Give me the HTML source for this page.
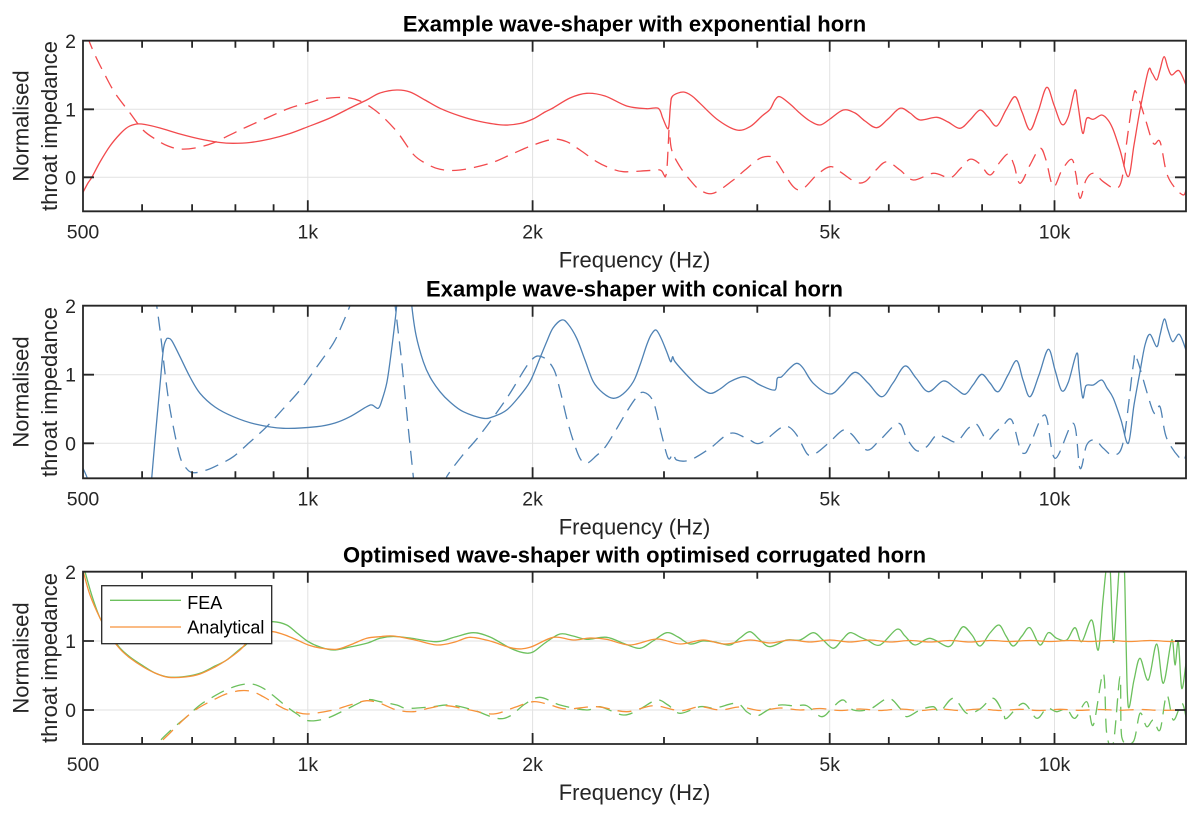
<!DOCTYPE html>
<html><head><meta charset="utf-8"><style>
html,body{margin:0;padding:0;background:#fff;}
svg{display:block;font-family:"Liberation Sans",Arial,sans-serif;}
.t{font-weight:bold;font-size:22px;fill:#000;}
.xl{font-size:22px;fill:#262626;}
.tk{font-size:19.5px;fill:#262626;}
.g{stroke:#e2e2e2;stroke-width:1;fill:none;}
.ax{stroke:#262626;stroke-width:1.8;fill:none;}
.d{fill:none;stroke-width:1.3;stroke-linejoin:round;stroke-linecap:butt;}
.ds{stroke-dasharray:14,8;}
</style></head><body>
<svg id="chart" width="1200" height="816" viewBox="0 0 1200 816" xmlns="http://www.w3.org/2000/svg">
<defs>
<clipPath id="c1"><rect x="83" y="40.7" width="1103" height="170.6"/></clipPath>
<clipPath id="c2"><rect x="83" y="305.7" width="1103" height="172.6"/></clipPath>
<clipPath id="c3"><rect x="83" y="571.7" width="1103" height="172.3"/></clipPath>
</defs>
<rect width="1200" height="816" fill="#fff"/>

<!-- ================= PLOT 1 ================= -->
<g>
<path class="g" d="M307.8 40.7V211.3M532.6 40.7V211.3M829.7 40.7V211.3M1054.5 40.7V211.3M83 109.3H1186M83 177.3H1186"/>
<g clip-path="url(#c1)">
<polyline class="d" stroke="#f24a4d" points="83,192.3 88,183 92,177 100,162 110,146 120,134 128,127 136.7,124 145,124.5 160,128 180,134 200,139 220,142.5 233,143.3 250,142.5 270,139 290,133.5 308,126.7 330,118 350,108 366.7,100 380,93 396.7,90 410,92 425,100 440,108.3 460,116 480,121.5 503,125 520,123.5 533,119 545,112 553,108 570,98 586.7,93.3 605,96 626.7,106 646.7,108.7 658.3,108.3 662.7,118 667.3,128.3 669,125 670.5,105 672.7,96 683.3,92 692,96 700,103.3 718,120 736.7,130 750,126.7 762,116 770,109.3 775,100 780,96.7 790,104 800,113.3 810,121 820,125 830,119 843.3,110 855,113 865,121 876.7,127.7 888,119 900,108.3 910,113 920,120 936.7,117.3 948,122 960,128.3 970,120 980,110 988,117 996.7,126 1006,110 1015,96.7 1022,112 1030,130 1038,112 1046.7,87.3 1054,105 1061.7,124.3 1068.3,116.7 1075,90 1078,105 1082.7,133.3 1086.7,118.3 1093.3,119.3 1101.7,115 1108,120 1113.3,130 1120,150 1128.3,176.7 1134,145 1140,110 1148.3,70.7 1152,73 1156.7,80 1160,70 1164,56.7 1168,68 1171.7,75 1179,70.7 1186,85"/>
<polyline class="d ds" stroke="#f24a4d" points="87,36 95,55 105,75 115,93 130,113 143,130 156.7,140 168,146 180,149 195,148 213,143 240,130 266.7,118 290,108 308.3,103 322,99 336.7,97.5 350,98 360,101 372,108 383,117 398,133 413,154 425,163 440,169.3 460,170 490,163.3 512,154 533.3,145 553.3,139.3 566.7,141.7 580,150 596.7,161.7 610,168 623.3,171.7 646.7,170.7 660,170 664,175 665.5,176.5 667,168 668.5,140 669.3,130 671.7,150 680,166.7 690,180 700,190 713.3,193.3 733.3,180 745,170 760,158.3 771.7,156.7 776.7,161.7 793.3,186.7 803.3,188.3 816.7,175 830,166.7 840,171.7 855,181.7 865,181.7 876,170 886.7,161.7 900,170 913.3,180 933.3,173.3 950,177.7 960,169 970,159.3 980,164 990,175 1000,162 1008.3,154 1014,165 1020,183.3 1030,165 1040,148.3 1046,160 1053.3,186.7 1062,170 1071.7,159.3 1076,175 1080,198.3 1086,180 1093.3,173.3 1103.3,181.7 1115,188.3 1121.7,180 1127,140 1133.3,96.7 1136.7,93.3 1145,118 1153.3,143.3 1160,141.7 1166.7,173.3 1175,188 1183.3,195 1186,190"/>
</g>
<path class="ax" d="M83 40.7H1186V211.3H83Z"/>
<path class="ax" d="M142.1 40.7v7M192.1 40.7v7M235.4 40.7v7M273.6 40.7v7M307.8 40.7v11M532.6 40.7v11M664 40.7v7M757.3 40.7v7M829.7 40.7v11M888.8 40.7v7M938.8 40.7v7M982.1 40.7v7M1020.3 40.7v7M1054.5 40.7v11
M142.1 211.3v-7M192.1 211.3v-7M235.4 211.3v-7M273.6 211.3v-7M307.8 211.3v-11M532.6 211.3v-11M664 211.3v-7M757.3 211.3v-7M829.7 211.3v-11M888.8 211.3v-7M938.8 211.3v-7M982.1 211.3v-7M1020.3 211.3v-7M1054.5 211.3v-11
M83 109.3h11M83 177.3h11M1186 109.3h-11M1186 177.3h-11"/>
<text class="t" x="634.5" y="31.5" text-anchor="middle">Example wave-shaper with exponential horn</text>
<g class="tk" text-anchor="middle"><text x="83" y="238.3">500</text><text x="307.8" y="238.3">1k</text><text x="532.6" y="238.3">2k</text><text x="829.7" y="238.3">5k</text><text x="1054.5" y="238.3">10k</text></g>
<g class="tk" text-anchor="end"><text x="76" y="48">2</text><text x="76" y="116.3">1</text><text x="76" y="184.3">0</text></g>
<text class="xl" x="634.5" y="267.3" text-anchor="middle">Frequency (Hz)</text>
<text class="xl" transform="translate(28.5,126) rotate(-90)" text-anchor="middle">Normalised</text>
<text class="xl" transform="translate(57,126) rotate(-90)" text-anchor="middle">throat impedance</text>
</g>

<!-- ================= PLOT 2 ================= -->
<g>
<path class="g" d="M307.8 305.7V478.3M532.6 305.7V478.3M829.7 305.7V478.3M1054.5 305.7V478.3M83 374.7H1186M83 443.3H1186"/>
<g clip-path="url(#c2)">
<polyline class="d" stroke="#4f82b4" points="83,468.3 87.3,478.3 90,490 150,490 151.7,478.3 155,440 160,385 163.3,350 166,340 168.3,338.3 172,341 180,356.7 190,377 200,393.3 215,407 233.3,416.7 255,424 283.3,428.3 316.7,426.7 335,423 350,416.7 366.7,406.7 372,405 378.3,408.3 382,400 386.7,383.3 390,361.7 394,330 396.7,305 397,290 411,290 411.7,305 416,335 423.3,361.7 430,377 440,391.7 450,402 463.3,411.7 483.3,418.3 495,416 506.7,410 518,398 530,381.7 540,358 546.7,341.7 553,328 561.7,320 568,324 576.7,338.3 585,360 593.3,381.7 603,393 613.3,398.3 623,394 633.3,381.7 640,365 646.7,345 651,335 656,330 661,338 666.7,351.7 670.7,361.7 672.7,356.7 675,361.7 686.7,375 698,386 710,393.3 720,389 730,381.7 743.3,376.7 752,380 760,385 775,390 777.3,378.3 781.7,376.7 790,368 796.7,363.3 803,368 813.3,383.3 830,394 842,385 855,372.3 868,383 881.7,396.7 893,383 905,366 916,378 928.3,391.7 943.3,381 955,388 965,394.3 973,385 981.7,374.3 990,383 998.3,391.7 1008,375 1016.7,360.7 1023,380 1030,396.7 1039,375 1048.3,349.3 1055,370 1061.7,390.7 1068.3,382.3 1076.7,353.3 1079,370 1082.7,397.7 1086,385.7 1093.3,385 1101.7,380 1107,388 1113.3,398.3 1121,420 1128.3,443.3 1134,405 1140,371.7 1145,345 1150,334.3 1156.7,346.7 1160,335 1164.3,319 1168,330 1172.7,341.7 1179.3,334.3 1186,350"/>
<polyline class="d ds" stroke="#4f82b4" points="155,295 156.7,305.7 160,330 166.7,386.7 172,420 180,456.7 186,468 193.3,472.7 206.7,470 220,464 233.3,456.7 250,442 266.7,426.7 283,409 300,390 316,368 333.3,343.3 342,325 350,305.7 352,300"/>
<polyline class="d ds" stroke="#4f82b4" points="393,298 395,305 398,330 401.7,361.7 405,395 408.3,428.3 413.3,476.7 414,485"/>
<polyline class="d ds" stroke="#4f82b4" points="445,485 446.7,476.7 462,456 480,435 506.7,398.3 530,361.7 541.7,356.7 553.3,368.3 560,390 566.7,418.3 573,440 580,458.3 586.7,463.3 596,456 606.7,445 626.7,411.7 636,398 643.3,392.3 653.3,401.7 661.7,435 668.3,458.3 673.3,453.3 676.7,460 690,460 710,448.3 730,433.3 746.7,438.3 760,443.3 780,428.3 788.3,426.7 796.7,435 806.7,453.3 812,455 818.3,451.7 830,441.7 843.3,430 851.7,434.3 866.7,450 880,440 898.3,423.3 906.7,438.3 916.7,450.7 926.7,446.7 936.7,435 946,438 956.7,441.7 968.3,428.3 976.7,424.3 986.7,440 995,433 1003.3,425 1011.7,420 1020,448.3 1025,453.3 1030,445 1045,415 1055,458.3 1073.3,423.3 1080,468.3 1086.7,445 1095,440 1103.3,448.3 1113.3,455 1123.3,441.7 1133.3,365 1136.7,358.3 1153.3,411.7 1160,406.7 1166.7,438.3 1181.7,460 1186,455"/>
</g>
<path class="ax" d="M83 305.7H1186V478.3H83Z"/>
<path class="ax" d="M142.1 305.7v7M192.1 305.7v7M235.4 305.7v7M273.6 305.7v7M307.8 305.7v11M532.6 305.7v11M664 305.7v7M757.3 305.7v7M829.7 305.7v11M888.8 305.7v7M938.8 305.7v7M982.1 305.7v7M1020.3 305.7v7M1054.5 305.7v11
M142.1 478.3v-7M192.1 478.3v-7M235.4 478.3v-7M273.6 478.3v-7M307.8 478.3v-11M532.6 478.3v-11M664 478.3v-7M757.3 478.3v-7M829.7 478.3v-11M888.8 478.3v-7M938.8 478.3v-7M982.1 478.3v-7M1020.3 478.3v-7M1054.5 478.3v-11
M83 374.7h11M83 443.3h11M1186 374.7h-11M1186 443.3h-11"/>
<text class="t" x="634.5" y="296.5" text-anchor="middle">Example wave-shaper with conical horn</text>
<g class="tk" text-anchor="middle"><text x="83" y="505.3">500</text><text x="307.8" y="505.3">1k</text><text x="532.6" y="505.3">2k</text><text x="829.7" y="505.3">5k</text><text x="1054.5" y="505.3">10k</text></g>
<g class="tk" text-anchor="end"><text x="76" y="313">2</text><text x="76" y="381.7">1</text><text x="76" y="450.3">0</text></g>
<text class="xl" x="634.5" y="534.3" text-anchor="middle">Frequency (Hz)</text>
<text class="xl" transform="translate(28.5,392) rotate(-90)" text-anchor="middle">Normalised</text>
<text class="xl" transform="translate(57,392) rotate(-90)" text-anchor="middle">throat impedance</text>
</g>

<!-- ================= PLOT 3 ================= -->
<g>
<path class="g" d="M307.8 571.7V744M532.6 571.7V744M829.7 571.7V744M1054.5 571.7V744M83 641H1186M83 710H1186"/>
<g clip-path="url(#c3)">
<polyline class="d" stroke="#6cc05d" points="82,560 85,571.7 92,596 100,618 110,635 120,648 130,657 143.3,666 155,673 168.3,677 185,676.5 200,673.3 215,666 226.7,660 240,649 246.7,644 255,632 265,624 273.3,621.7 286.7,625 297,633 308.3,641.7 320,647 333.3,650 350,647 366.7,643.3 380,638.3 393.3,636.5 410,638 436.7,641.7 455,637 473.3,632.7 490,637 510,648 523.3,652.7 533,652 545,643 560,634 573,636 586.7,639.3 606.7,637.3 625,644 640,648.3 653,641 666.7,632.7 678,637 690,644 703,641 715,642 730,645 740,638 750,631.7 760,640 770,646.7 786.7,640 800,640 813.3,632.7 823,640 833.3,648.3 842,640 850,632.7 860,637 867,640 880,645 896.7,629.3 905,636 915,645 930,638.3 948.3,646.7 956,637 963.3,626.7 972,635 980,646 990,633 999,625 1006,636 1013.3,646 1022,636 1030,627.7 1040,645 1048.3,632.7 1056.7,638.3 1066.7,640 1075,627.7 1081.7,641.7 1091.7,620 1098.3,650 1103,600 1107.3,560 1110,565 1113.3,641.7 1117,600 1120,560 1124,560 1126,640 1128.3,706.7 1134,680 1140,658.3 1148.3,680 1156.7,644 1163.3,683.3 1171.7,640 1175,665 1178.3,641.7 1181.7,688.3 1186,663.3"/>
<polyline class="d" stroke="#f7923a" points="80,560 83.3,571.7 90,595 100,618 110,636 120,649 130,658 143.3,667 155,673 168.3,677.3 185,677 200,674 215,667 226.7,660 240,650 246.7,643 255,637 265,632 273.3,631.7 285,635 297,640 308.3,645 320,648 336.7,649.3 350,645 366.7,638.3 380,636.7 393.3,636 415,640 436.7,645 455,642 470,637.3 490,641 513.3,648.3 530,647.3 553.3,637.3 573.3,640 590,638 606.7,639.3 630,645 656.7,639 680,644 703.3,640 725,644 750,640 770,643 790,640 810,642 830,640 850,642 870,640 890,642 910,640.5 930,642 950,640.5 970,642 990,640.5 1010,641.5 1030,640.5 1050,641.5 1070,640.5 1090,641.5 1110,640.5 1130,641.5 1150,640.5 1170,641.5 1186,641"/>
<polyline class="d ds" stroke="#6cc05d" points="153,760 158,744 170,731 186.7,716.7 200,705 213.3,696.7 226,690 240,685 252,684 263.3,688.3 275,697 286.7,706.7 297,714 308.3,720.7 326.7,718.3 345,710 366.7,700 380,701.7 396.7,705 406.7,708.3 430,707 450,705 473,710 496.7,718.3 510,716 525,704 540,697.3 560,705 586.7,710 600,706.7 623.3,715 640,709 656.7,700 668,705 680,713.3 700,706.7 715,708 736.7,703.3 747,712 756.7,716 768,710 780,705 795,706 806.7,705.7 821.7,716.7 833.3,706.7 843.3,700 853.3,710 870,709 888.3,698.3 900,708.3 906.7,716.7 920,710 933.3,706.7 940,711.7 953.3,698.3 966.7,713.3 980,709 993.3,698.3 1003.3,713.3 1006.7,718.3 1023.3,703.3 1036.7,718.3 1046.7,708.3 1056.7,711.7 1066.7,709 1075,718.3 1086.7,701.7 1093.3,725 1103.3,673.3 1106.7,733.3 1113.3,743.3 1120,676.7 1121.7,736.7 1133.3,741.7 1140,713.3 1146.7,726.7 1153.3,720 1160,730 1166.7,695 1173.3,720 1181.7,703.3 1186,716.7"/>
<polyline class="d ds" stroke="#f7923a" points="155,760 160,744 170,733 186.7,716.7 200,707 213.3,700 226,694 240,690.7 252,691.5 263.3,696.7 283.3,708.3 296,712 308.3,714 333.3,710 350,705 366.7,700.7 380,703.3 396.7,710 413.3,711.7 430,708 446.7,705.7 470,710 493.3,714 513,708 533.3,701.7 550,705 566.7,709 596.7,706.7 626.7,711.7 653.3,705.7 680,710.7 700,706.7 720,710 740,707 760,710.5 780,708 800,710 820,708.5 840,710.5 860,709 880,710.5 900,709 920,710.5 940,709 960,710.5 980,709 1000,710.5 1020,709.3 1040,710.5 1060,709.3 1080,710.3 1100,709.5 1120,710.3 1140,709.5 1160,710.3 1186,710"/>
</g>
<path class="ax" d="M83 571.7H1186V744H83Z"/>
<path class="ax" d="M142.1 571.7v7M192.1 571.7v7M235.4 571.7v7M273.6 571.7v7M307.8 571.7v11M532.6 571.7v11M664 571.7v7M757.3 571.7v7M829.7 571.7v11M888.8 571.7v7M938.8 571.7v7M982.1 571.7v7M1020.3 571.7v7M1054.5 571.7v11
M142.1 744v-7M192.1 744v-7M235.4 744v-7M273.6 744v-7M307.8 744v-11M532.6 744v-11M664 744v-7M757.3 744v-7M829.7 744v-11M888.8 744v-7M938.8 744v-7M982.1 744v-7M1020.3 744v-7M1054.5 744v-11
M83 641h11M83 710h11M1186 641h-11M1186 710h-11"/>
<!-- legend -->
<rect x="101.7" y="585.7" width="170" height="58" fill="#fff" stroke="#262626" stroke-width="1.3"/>
<line x1="110" y1="600.3" x2="181" y2="600.3" stroke="#6cc05d" stroke-width="1.3"/>
<line x1="110" y1="627" x2="181" y2="627" stroke="#f7923a" stroke-width="1.3"/>
<text x="187.3" y="609" style="font-size:18px;fill:#000">FEA</text>
<text x="187.3" y="633.7" style="font-size:18px;fill:#000">Analytical</text>
<text class="t" x="634.5" y="562.5" text-anchor="middle">Optimised wave-shaper with optimised corrugated horn</text>
<g class="tk" text-anchor="middle"><text x="83" y="771">500</text><text x="307.8" y="771">1k</text><text x="532.6" y="771">2k</text><text x="829.7" y="771">5k</text><text x="1054.5" y="771">10k</text></g>
<g class="tk" text-anchor="end"><text x="76" y="579">2</text><text x="76" y="648">1</text><text x="76" y="717">0</text></g>
<text class="xl" x="634.5" y="800" text-anchor="middle">Frequency (Hz)</text>
<text class="xl" transform="translate(28.5,658) rotate(-90)" text-anchor="middle">Normalised</text>
<text class="xl" transform="translate(57,658) rotate(-90)" text-anchor="middle">throat impedance</text>
</g>
</svg>
<script>
(function(){
  try{
    var ns="http://www.w3.org/2000/svg";
    var pls=document.querySelectorAll("#chart polyline");
    for(var i=0;i<pls.length;i++){
      var pl=pls[i];
      var raw=pl.getAttribute("points").trim().split(/\s+/);
      var p=[];
      for(var j=0;j<raw.length;j++){var a=raw[j].split(",");p.push([parseFloat(a[0]),parseFloat(a[1])]);}
      if(p.length<3)continue;
      var d="M"+p[0][0]+" "+p[0][1];
      for(var k=0;k<p.length-1;k++){
        var p0=p[k>0?k-1:k],p1=p[k],p2=p[k+1],p3=p[k+2<p.length?k+2:k+1];
        var c1x=p1[0]+(p2[0]-p0[0])/6,c1y=p1[1]+(p2[1]-p0[1])/6;
        var c2x=p2[0]-(p3[0]-p1[0])/6,c2y=p2[1]-(p3[1]-p1[1])/6;
        // keep control x monotonic within segment to avoid loops
        if(p2[0]>=p1[0]){c1x=Math.min(Math.max(c1x,p1[0]),p2[0]);c2x=Math.min(Math.max(c2x,p1[0]),p2[0]);}
        d+="C"+c1x.toFixed(2)+" "+c1y.toFixed(2)+" "+c2x.toFixed(2)+" "+c2y.toFixed(2)+" "+p2[0]+" "+p2[1];
      }
      var path=document.createElementNS(ns,"path");
      path.setAttribute("d",d);
      path.setAttribute("class",pl.getAttribute("class"));
      path.setAttribute("stroke",pl.getAttribute("stroke"));
      pl.parentNode.replaceChild(path,pl);
    }
  }catch(e){}
})();
</script>
</body></html>
